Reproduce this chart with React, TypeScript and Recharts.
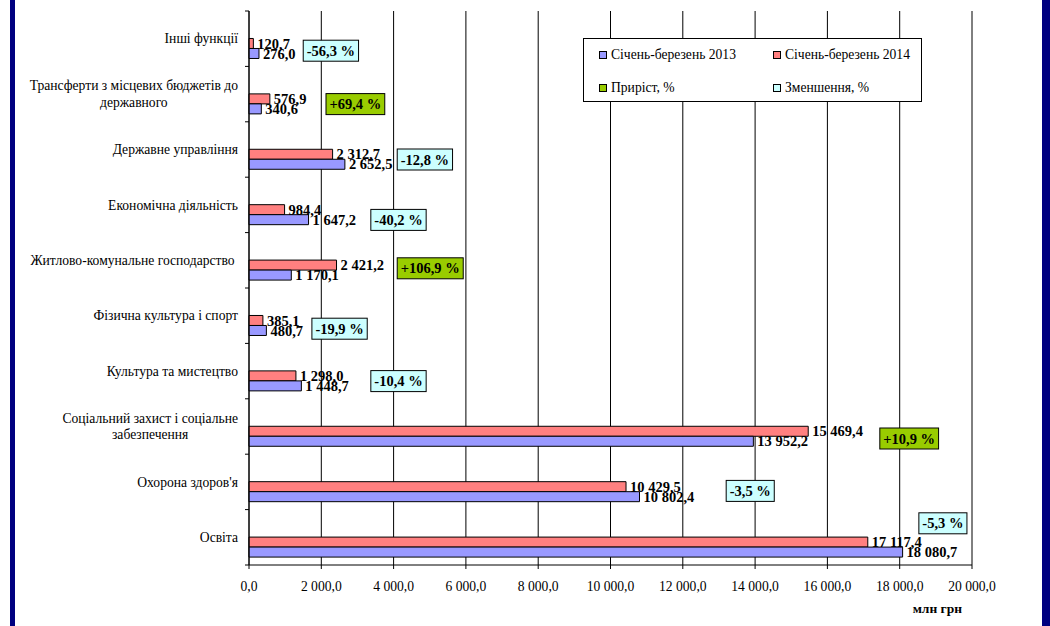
import React from "react"
import { BarChart, Bar, XAxis, YAxis, CartesianGrid, LabelList, Legend, ReferenceDot } from "recharts"

const categories = [
  "Інші функції",
  "Трансферти з місцевих бюджетів до\nдержавного",
  "Державне управління",
  "Економічна діяльність",
  "Житлово-комунальне господарство ",
  "Фізична культура і спорт",
  "Культура та мистецтво",
  "Соціальний захист і соціальне\nзабезпечення",
  "Охорона здоров'я",
  "Освіта",
]
const jan2013 = [276.0, 340.6, 2652.5, 1647.2, 1170.1, 480.7, 1448.7, 13952.2, 10802.4, 18080.7]
const jan2014 = [120.7, 576.9, 2312.7, 984.4, 2421.2, 385.1, 1298.0, 15469.4, 10429.5, 17117.4]
const changePct = [-56.3, 69.4, -12.8, -40.2, 106.9, -19.9, -10.4, 10.9, -3.5, -5.3]
const xTicks = [0, 2000, 4000, 6000, 8000, 10000, 12000, 14000, 16000, 18000, 20000]

// hand placed % boxes: left edge (in млн грн) and shift from band centre (px)
const noteAt = [1500, 2130, 4100, 3370, 4100, 1740, 3370, 17450, 13200, 18530]
const noteDy = [12, 10, 10, 15, 8, 13, 10, 12, 9, -14]

const W = 1050
const H = 626
const PLOT_L = 249
const PLOT_R = 972
const PLOT_T = 11
const PLOT_B = 565
const BAND = (PLOT_B - PLOT_T) / categories.length

const SERIF = "'Liberation Serif', 'Times New Roman', serif"
const TXT = 13.6
const BOLD = 14.5
const CAT_FONT = `${TXT}px 'Liberation Serif'`
const NOTE_FONT = `bold ${BOLD}px 'Liberation Serif'`

const C2013 = "#9999FF"
const C2014 = "#FF8080"
const CUP = "#99CC00"
const CDOWN = "#CCFFFF"

const legendItems = [
  { name: "Січень-березень 2013", color: C2013 },
  { name: "Січень-березень 2014", color: C2014 },
  { name: "Приріст, %", color: CUP },
  { name: "Зменшення, %", color: CDOWN },
]

let ctx: CanvasRenderingContext2D | null = null
const measure = (s: string, font: string) => {
  if (!ctx) ctx = document.createElement("canvas").getContext("2d")
  if (!ctx) return s.length * 7
  ctx.font = font
  return ctx.measureText(s).width
}

const fmt = (v: number) => {
  const [i, d] = v.toFixed(1).split(".")
  return i.replace(/\B(?=(\d{3})+(?!\d))/g, " ") + "," + d
}
const fmtPct = (v: number) => (v > 0 ? "+" : "") + v.toFixed(1).replace(".", ",") + " %"

const data = categories.map((name, i) => ({
  name,
  y2013: jan2013[i],
  y2014: jan2014[i],
  up: null,
  down: null,
}))

const CategoryTick = (props: any) => {
  const { x, y, payload } = props
  const idx = categories.indexOf(payload.value)
  const lines = String(payload.value).split("\n")
  const w = Math.max(...lines.map((l) => measure(l, CAT_FONT)))
  const cx = x - w / 2
  const lh = 16.5
  const y0 = y - ((lines.length - 1) * lh) / 2
  return (
    <g>
      <line x1={PLOT_L - 4} x2={PLOT_L} y1={y - BAND / 2} y2={y - BAND / 2} stroke="#000" />
      {idx === categories.length - 1 && (
        <line x1={PLOT_L - 4} x2={PLOT_L} y1={y + BAND / 2} y2={y + BAND / 2} stroke="#000" />
      )}
      <text textAnchor="middle" fontSize={TXT} fontFamily={SERIF} fill="#000" style={{ whiteSpace: "pre" }}>
        {lines.map((l, i) => (
          <tspan key={i} x={cx} y={y0 + i * lh} dy="0.34em">
            {l}
          </tspan>
        ))}
      </text>
    </g>
  )
}

const NoteBox = ({ cx, cy, i }: any) => {
  if (cx == null || cy == null) return null
  const text = fmtPct(changePct[i])
  const w = measure(text, NOTE_FONT) + 7
  const h = 21
  const top = cy + noteDy[i] - h / 2
  return (
    <g>
      <rect x={cx} y={top} width={w} height={h} fill={changePct[i] > 0 ? CUP : CDOWN} stroke="#000" />
      <text
        x={cx + w / 2}
        y={top + h / 2}
        textAnchor="middle"
        dominantBaseline="central"
        fontSize={BOLD}
        fontWeight="bold"
        fontFamily={SERIF}
        fill="#000"
      >
        {text}
      </text>
    </g>
  )
}

const renderLegend = () => (
  <div
    style={{
      position: "relative",
      width: 339,
      height: 64,
      boxSizing: "border-box",
      border: "1px solid #000",
      background: "#fff",
      fontFamily: SERIF,
      fontSize: TXT,
      color: "#000",
    }}
  >
    {legendItems.map((it, i) => (
      <div
        key={it.name}
        style={{
          position: "absolute",
          left: i % 2 === 0 ? 15 : 189,
          top: i < 2 ? 8 : 41,
          display: "flex",
          alignItems: "center",
          whiteSpace: "nowrap",
          lineHeight: "16px",
        }}
      >
        <span
          style={{
            display: "inline-block",
            width: 6,
            height: 6,
            background: it.color,
            border: "1px solid #000",
            marginRight: 4,
          }}
        />
        {it.name}
      </div>
    ))}
  </div>
)

export default function App() {
  return (
    <div style={{ position: "absolute", left: 0, top: 0, width: W, height: H, background: "#fff", overflow: "hidden" }}>
      <div style={{ position: "absolute", left: 10, top: 0, width: 5, height: H, background: "#000080" }} />
      <div style={{ position: "absolute", left: 1042, top: 0, width: 8, height: H, background: "#000080" }} />
      <BarChart
        width={W}
        height={H}
        data={data}
        layout="vertical"
        margin={{ top: PLOT_T, right: W - PLOT_R, bottom: 0, left: 0 }}
        barCategoryGap="13.5%"
        barGap={0}
      >
        <CartesianGrid horizontal={false} stroke="#000" />
        <XAxis
          type="number"
          domain={[0, 20000]}
          ticks={xTicks}
          tickFormatter={fmt}
          height={H - PLOT_B}
          axisLine={{ stroke: "#000" }}
          tickLine={{ stroke: "#000" }}
          tickSize={4}
          tickMargin={12}
          tick={{ fontSize: TXT, fontFamily: SERIF, fill: "#000" }}
          interval={0}
          label={{
            content: (p: any) => (
              <text
                x={p.viewBox.x + p.viewBox.width - 10}
                y={613}
                textAnchor="end"
                fontSize={13.5}
                fontWeight="bold"
                fontFamily={SERIF}
                fill="#000"
              >
                млн грн
              </text>
            ),
          }}
        />
        <XAxis
          xAxisId="top"
          orientation="top"
          type="number"
          domain={[0, 20000]}
          height={0}
          tick={false}
          tickLine={false}
          axisLine={{ stroke: "#808080" }}
        />
        <YAxis
          type="category"
          dataKey="name"
          width={PLOT_L}
          axisLine={{ stroke: "#000" }}
          tickLine={false}
          tickSize={0}
          tickMargin={11}
          interval={0}
          tick={<CategoryTick />}
        />
        <YAxis
          yAxisId="right"
          orientation="right"
          type="category"
          dataKey="name"
          width={0}
          tick={false}
          tickLine={false}
          axisLine={{ stroke: "#808080" }}
        />
        <Legend
          layout="horizontal"
          verticalAlign="middle"
          align="center"
          wrapperStyle={{ position: "absolute", left: 583, top: 38, width: 339, height: 64 }}
          content={renderLegend}
        />
        <Bar dataKey="down" name="Зменшення, %" fill={CDOWN} stroke="#000" isAnimationActive={false} />
        <Bar dataKey="up" name="Приріст, %" fill={CUP} stroke="#000" isAnimationActive={false} />
        <Bar dataKey="y2014" name="Січень-березень 2014" fill={C2014} stroke="#000" isAnimationActive={false}>
          <LabelList
            dataKey="y2014"
            position="right"
            offset={4}
            formatter={(v: any) => fmt(Number(v))}
            fill="#000"
            fontSize={BOLD}
            fontWeight="bold"
            fontFamily={SERIF}
          />
        </Bar>
        <Bar dataKey="y2013" name="Січень-березень 2013" fill={C2013} stroke="#000" isAnimationActive={false}>
          <LabelList
            dataKey="y2013"
            position="right"
            offset={4}
            formatter={(v: any) => fmt(Number(v))}
            fill="#000"
            fontSize={BOLD}
            fontWeight="bold"
            fontFamily={SERIF}
          />
        </Bar>
        {categories.map((c, i) => (
          <ReferenceDot
            key={c}
            x={noteAt[i]}
            y={c}
            r={0}
            ifOverflow="visible"
            shape={(p: any) => <NoteBox {...p} i={i} />}
          />
        ))}
      </BarChart>
    </div>
  )
}
